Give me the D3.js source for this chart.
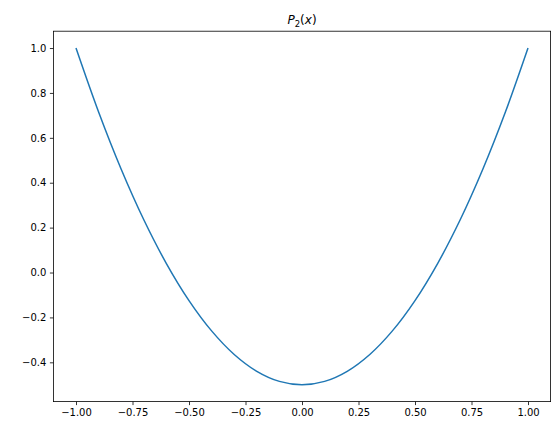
<!DOCTYPE html>
<html><head><meta charset="utf-8">
<script src="https://cdn.jsdelivr.net/npm/d3@7/dist/d3.min.js"></script>
<style>body{margin:0;background:#fff}text{font-family:"DejaVu Sans",sans-serif}</style>
</head><body><svg id="c" width="559" height="435"></svg>
<script>
const xValues=[-1,-0.9,-0.8,-0.7,-0.6,-0.5,-0.4,-0.3,-0.2,-0.1,0,0.1,0.2,0.3,0.4,0.5,0.6,0.7,0.8,0.9,1];
const yValues=[1,0.715,0.46,0.235,0.04,-0.125,-0.26,-0.365,-0.44,-0.485,-0.5,-0.485,-0.44,-0.365,-0.26,-0.125,0.04,0.235,0.46,0.715,1];
const xTicks=[-1,-0.75,-0.5,-0.25,0,0.25,0.5,0.75,1];
const yTicks=[-0.4,-0.2,0,0.2,0.4,0.6,0.8,1.0];
const L=53.4,R=550.6,T=31.2,B=401.6;
const svg=d3.select("#c");
const x=d3.scaleLinear().domain([-1.1,1.1]).range([L,R]);
const y=d3.scaleLinear().domain([-0.575,1.075]).range([B,T]);
const gx=svg.append("g").attr("transform",`translate(0,${B})`).call(d3.axisBottom(x).tickValues(xTicks).tickFormat(d3.format(".2f")).tickSize(3.5).tickPadding(3.5));
const gy=svg.append("g").attr("transform",`translate(${L},0)`).call(d3.axisLeft(y).tickValues(yTicks).tickFormat(d3.format(".1f")).tickSize(3.5).tickPadding(3.5));
[gx,gy].forEach(g=>{g.select(".domain").remove();g.selectAll("text").attr("font-size",10).attr("fill","#000").style("font-family","DejaVu Sans");g.selectAll("line").attr("stroke","#000").attr("stroke-width",0.8);});
svg.append("rect").attr("x",L).attr("y",T).attr("width",R-L).attr("height",B-T).attr("fill","none").attr("stroke","#000").attr("stroke-width",0.8);
svg.append("path").datum(xValues.map((v,i)=>[v,yValues[i]])).attr("fill","none").attr("stroke","#1f77b4").attr("stroke-width",1.5)
 .attr("d",d3.line().x(d=>x(d[0])).y(d=>y(d[1])).curve(d3.curveCatmullRom));
const t=svg.append("text").attr("x",(L+R)/2).attr("y",T-7).attr("text-anchor","middle").attr("font-size",12).attr("font-style","italic");
t.append("tspan").text("P");
t.append("tspan").text("2").attr("font-size",8.5).attr("dy",3).attr("font-style","normal");
t.append("tspan").text("(").attr("dy",-3).attr("font-style","normal");
t.append("tspan").text("x");
t.append("tspan").text(")").attr("font-style","normal");
</script></body></html>
